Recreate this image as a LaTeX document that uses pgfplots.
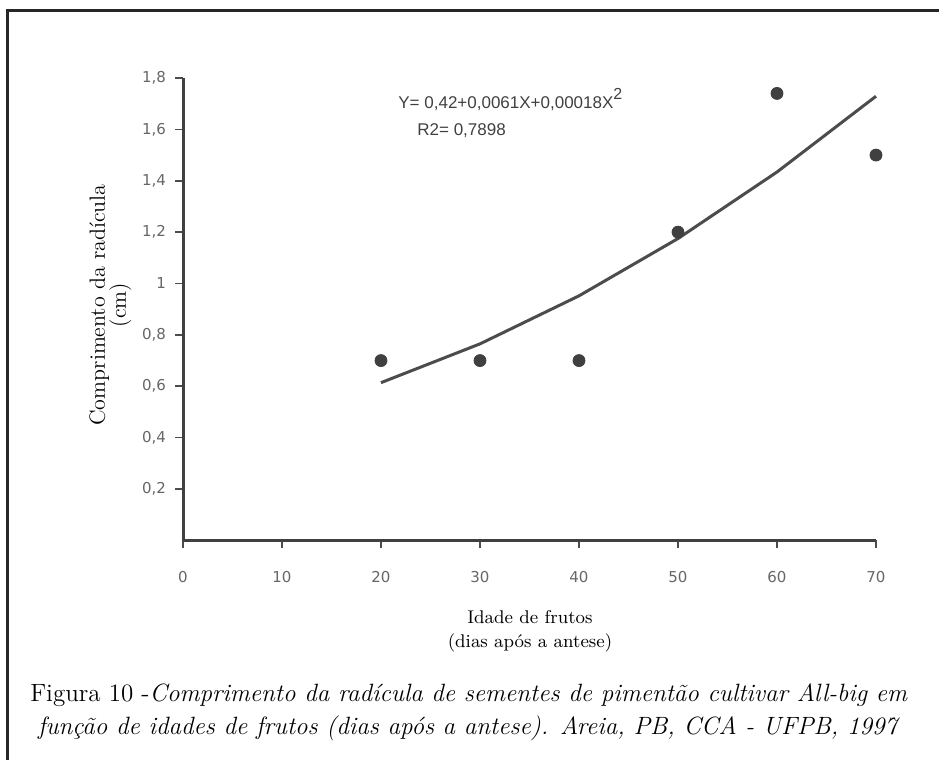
\documentclass[border=0pt]{standalone}
\usepackage{fontspec}
\usepackage{pgfplots}
\pgfplotsset{compat=1.18}
\newfontfamily\lettering{DejaVu Sans}
\newfontfamily\eqfont{Liberation Sans}
\begin{document}
\begin{tikzpicture}[x=0.5pt,y=0.5pt]
\path[use as bounding box] (0,0) rectangle (939,760);
\draw[line width=1.5pt, color=black!85] (7,-5) -- (7,749) -- (945,749);
\begin{axis}[
  at={(91.5pt,109.8pt)}, anchor=south west,
  scale only axis, width=346.5pt, height=231.2pt,
  xmin=0, xmax=70, ymin=0, ymax=1.8,
  axis x line=bottom, axis y line=left,
  axis line style={-, line width=1.5pt, black!75},
  xtick={0,10,...,70},
  ytick={0.2,0.4,0.6,0.8,1,1.2,1.4,1.6,1.8},
  yticklabels={{0,2},{0,4},{0,6},{0,8},{1},{1,2},{1,4},{1,6},{1,8}},
  /pgf/number format/assume math mode=true,
  tick align=outside, major tick length=4pt,
  tick style={line width=0.8pt, black!70},
  ticklabel style={font=\lettering\fontsize{7.5}{8}\selectfont, text=black!60},
  xticklabel style={yshift=-8pt},
  yticklabel style={xshift=-1pt},
  clip=false,
]
\addplot[no marks, line width=1.5pt, black!70] coordinates {(20,0.614)(30,0.765)(40,0.952)(50,1.175)(60,1.434)(70,1.729)};
\addplot[only marks, mark=*, mark size=3pt, black!75] coordinates {(20,0.70)(30,0.70)(40,0.70)(50,1.20)(60,1.74)(70,1.50)};
\end{axis}
\node[anchor=west, text=black!75, font=\eqfont\fontsize{8.5}{9}\selectfont, inner sep=0pt] at (398,660) {Y= 0,42+0,0061X+0,00018X\raisebox{4.5pt}{\fontsize{8}{8}\selectfont 2}};
\node[anchor=west, text=black!75, font=\eqfont\fontsize{8.5}{9}\selectfont, inner sep=0pt] at (417,629) {R2= 0,7898};
\node[rotate=90, anchor=base, font=\fontsize{11}{12}\selectfont, inner sep=0pt] at (105,455) {Comprimento da radícula};
\node[rotate=90, anchor=base, font=\fontsize{11}{12}\selectfont, inner sep=0pt] at (126,455) {(cm)};
\node[anchor=base, font=\fontsize{9.2}{10}\selectfont, inner sep=0pt] at (530,136) {Idade de frutos};
\node[anchor=base, font=\fontsize{9.2}{10}\selectfont, inner sep=0pt] at (530,112) {(dias após a antese)};
\node[anchor=base, font=\fontsize{12.5}{15}\selectfont, inner sep=0pt] at (469,58) {Figura 10 -\textit{Comprimento da radícula de sementes de pimentão cultivar All-big em}};
\node[anchor=base, font=\fontsize{12.5}{15}\selectfont, inner sep=0pt] at (469,25) {\textit{função de idades de frutos (dias após a antese). Areia, PB, CCA - UFPB, 1997}};
\end{tikzpicture}
\end{document}
